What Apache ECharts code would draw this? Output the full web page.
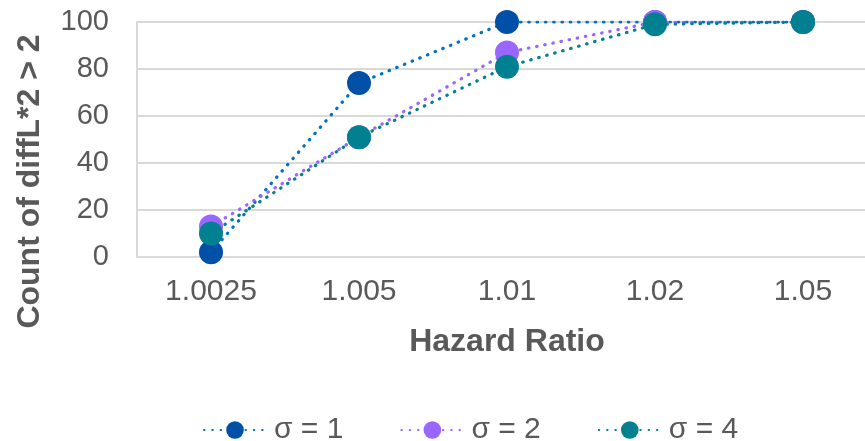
<!DOCTYPE html>
<html><head><meta charset="utf-8">
<script src="https://cdn.jsdelivr.net/npm/echarts@6/dist/echarts.min.js"></script>
<style>html,body{margin:0;padding:0;background:#fff;overflow:hidden;width:865px;height:441px}#c{width:877px;height:441px}</style>
</head><body><div id="c"></div>
<script>
const categories = ['1.0025', '1.005', '1.01', '1.02', '1.05'];
const sigma1 = [2, 74, 100, 100, 100];
const sigma2 = [13, 51, 87, 100, 100];
const sigma4 = [10, 51, 81, 99, 100];
const seriesNames = ['σ = 1', 'σ = 2', 'σ = 4'];
const yTicks = [0, 20, 40, 60, 80, 100];

const chart = echarts.init(document.getElementById('c'));
const font = 'Liberation Sans, Arial, sans-serif';
function mk(name, data, lineColor, markColor) {
  return {
    name, type: 'line', data,
    symbol: 'circle', symbolSize: 24,
    lineStyle: { type: [0.5, 7.8], width: 3.2, color: lineColor, cap: 'round' },
    itemStyle: { color: markColor },
    emphasis: { disabled: true },
    animation: false
  };
}
chart.setOption({
  animation: false,
  grid: { left: 137, right: 0, top: 22, height: 235 },
  legend: {
    top: 410, left: 198, itemGap: 57, itemWidth: 62, itemHeight: 22,
    textStyle: { fontFamily: font, fontSize: 30, color: '#595959', padding: [0, 0, 0, 3] },
    data: seriesNames
  },
  xAxis: {
    type: 'category', data: categories,
    name: 'Hazard Ratio', nameLocation: 'middle', nameGap: 69,
    nameTextStyle: { fontFamily: font, fontSize: 32, fontWeight: 'bold', color: '#595959' },
    axisLine: { lineStyle: { color: '#d9d9d9', width: 2 } },
    axisTick: { show: false },
    axisLabel: { fontFamily: font, fontSize: 30, color: '#595959', margin: 20 }
  },
  yAxis: {
    type: 'value', min: 0, max: 100, interval: 20,
    name: 'Count of diffL*2 > 2', nameLocation: 'middle', nameGap: 91,
    nameTextStyle: { fontFamily: font, fontSize: 32, fontWeight: 'bold', color: '#595959', padding: [0, 84, 0, 0] },
    axisLine: { show: true, lineStyle: { color: '#d9d9d9', width: 2 } },
    splitLine: { lineStyle: { color: '#d9d9d9', width: 2 } },
    axisLabel: { fontFamily: font, fontSize: 29, color: '#595959', margin: 28,
      formatter: v => yTicks.includes(v) ? String(v) : '' }
  },
  series: [
    mk(seriesNames[0], sigma1, '#0070C0', '#0050A8'),
    mk(seriesNames[1], sigma2, '#9966FF', '#9966FF'),
    mk(seriesNames[2], sigma4, '#008090', '#008090')
  ]
});
</script></body></html>
